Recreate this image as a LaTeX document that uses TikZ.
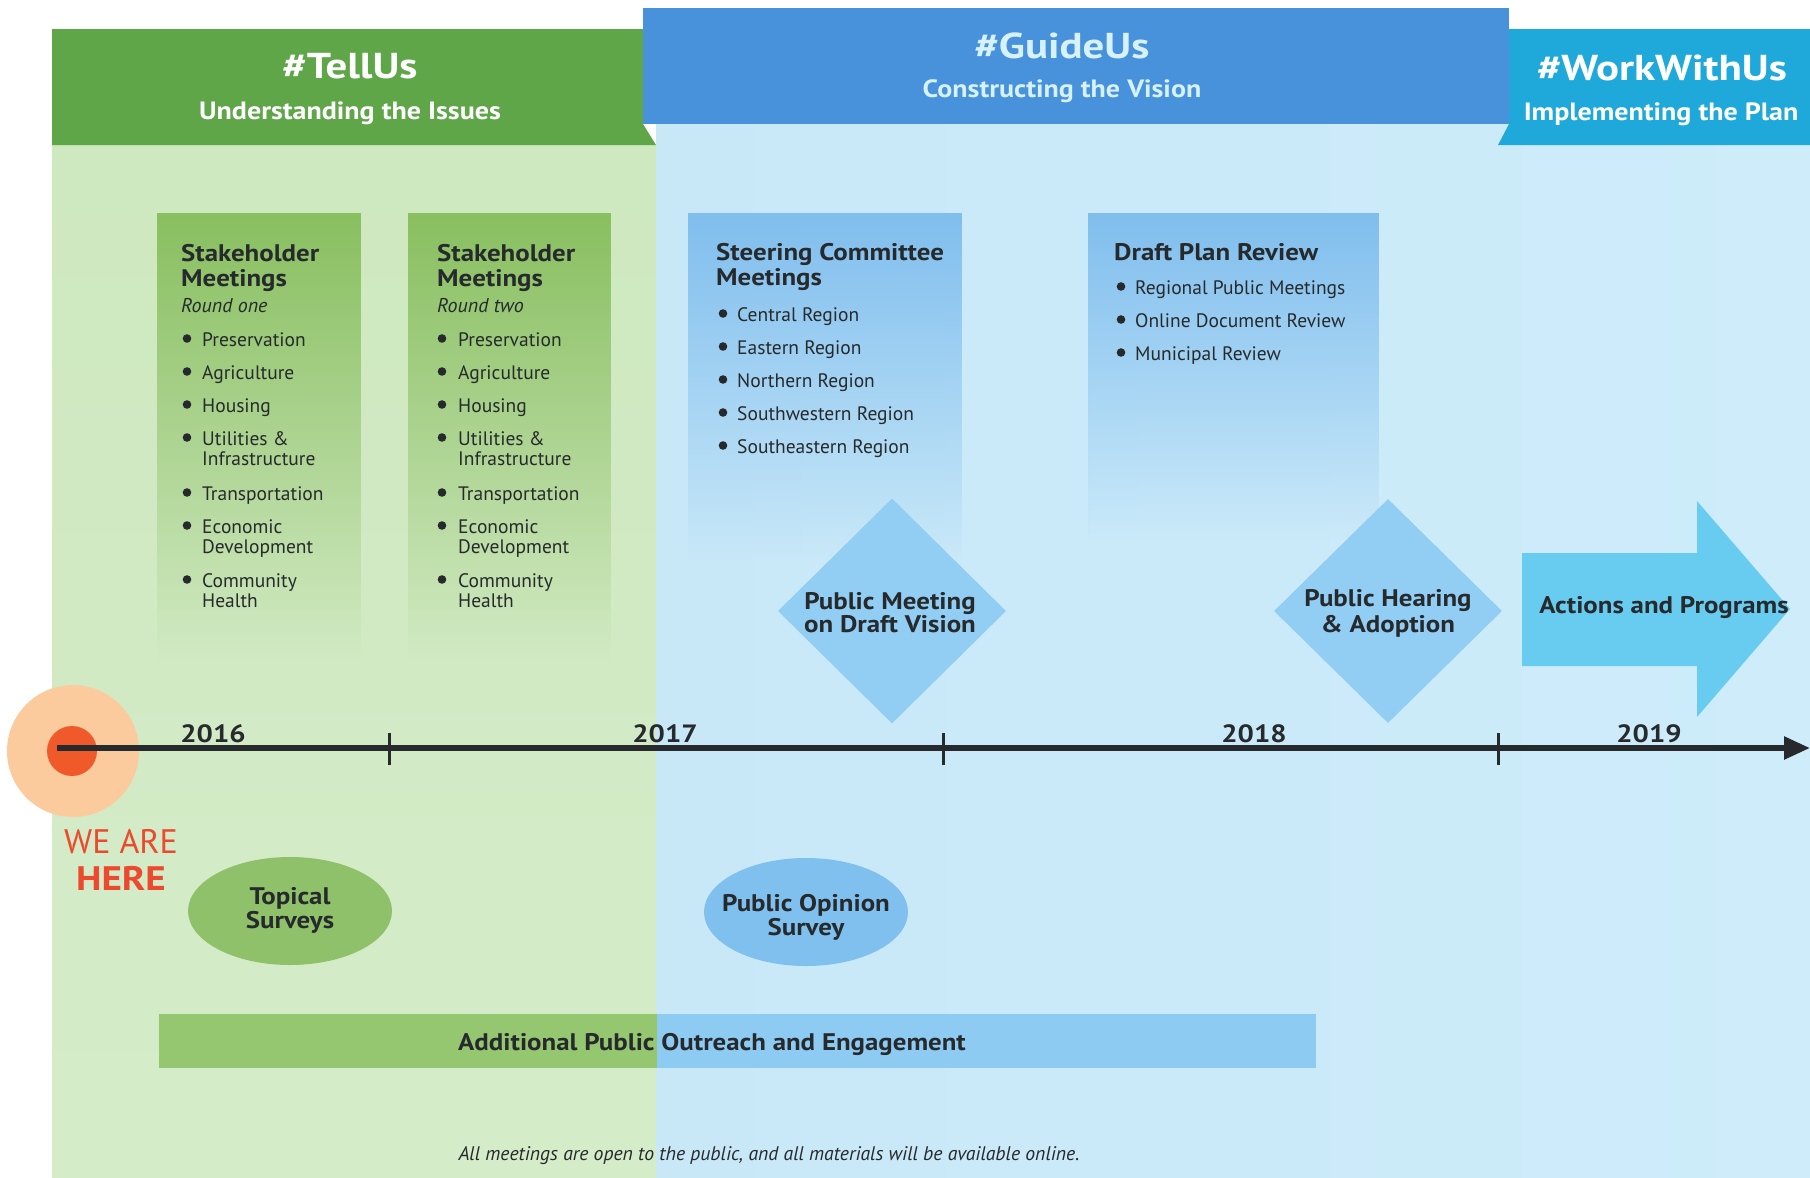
\documentclass[tikz,border=0pt]{standalone}
\usepackage{fontspec}
\setmainfont{PT Sans}
\newfontfamily\bfw[FakeStretch=1.12]{PT Sans}
\newfontfamily\bfh[FakeStretch=1.19]{PT Sans}
\newfontfamily\bfy[FakeStretch=1.15]{PT Sans}
\usetikzlibrary{arrows.meta,shapes.geometric,fadings}
\tikzfading[name=fadedown, top color=transparent!0, middle color=transparent!20, bottom color=transparent!100]
\definecolor{bggreen}{HTML}{D5ECC9}
\definecolor{bggreenT}{HTML}{CEE8BF}
\definecolor{bgblue}{HTML}{C8E8F8}
\definecolor{bgblueR}{HTML}{CEECFA}
\definecolor{hdrgreen}{HTML}{5FA648}
\definecolor{hdrblue}{HTML}{4792DB}
\definecolor{hdrteal}{HTML}{1EA9DA}
\definecolor{boxgreen}{HTML}{89BF60}
\definecolor{boxblue}{HTML}{80BEEE}
\definecolor{diamc}{HTML}{92CDF3}
\definecolor{arrowc}{HTML}{68CBF0}
\definecolor{ellgreen}{HTML}{8FC16A}
\definecolor{ellblue}{HTML}{80C0EF}
\definecolor{bargreen}{HTML}{95C670}
\definecolor{barblue}{HTML}{8ECBF3}
\definecolor{hotred}{HTML}{F05A2A}
\definecolor{glowc}{HTML}{FBCB9E}
\definecolor{redtxt}{HTML}{EC4A2E}
\definecolor{txt}{HTML}{262A2C}
\definecolor{paleblue}{HTML}{D6F1FF}
\newcommand{\bitem}[5]{\fill[txt] (#2,#4-7.5) circle (4.3);
  \node[item] (#1) at (#3,#4) {#5};}
\newcommand{\citem}[4]{\node[item] (#1) at (#2,#3) {#4};}
\begin{document}
\begin{tikzpicture}[x=1pt,y=-1pt,
  title/.style={font=\bfw\fontsize{24}{26}\selectfont\bfseries, text=txt, anchor=base west, inner sep=0pt},
  sub/.style={font=\fontsize{20}{21}\selectfont\itshape, text=txt, anchor=base west, inner sep=0pt},
  item/.style={font=\fontsize{19.5}{21}\selectfont, text=txt, anchor=base west, inner sep=0pt},
  lab/.style={font=\bfw\fontsize{24}{26}\selectfont\bfseries, text=txt, anchor=base, inner sep=0pt},
  year/.style={font=\bfy\fontsize{25}{27}\selectfont\bfseries, text=txt, anchor=base, inner sep=0pt},
  hbig/.style={font=\bfh\fontsize{36}{40}\selectfont\bfseries, anchor=base, inner sep=0pt},
  hsmall/.style={font=\bfw\fontsize{25}{28}\selectfont\bfseries, anchor=base, inner sep=0pt},
  tick/.style={line width=3pt, draw=txt},
]
\useasboundingbox (0,0) rectangle (1810,1178);
\fill[white] (0,0) rectangle (1810,1178);
% body regions
\shade[top color=bggreenT, bottom color=bggreen] (52,145) rectangle (657,1178);
\shade[left color=bgblue, right color=bgblueR] (656,124) rectangle (1810,1178);
% headers
\fill[hdrgreen] (52,29) -- (643,29) -- (643,124) -- (656,145) -- (52,145) -- cycle;
\fill[hdrblue] (643,8) rectangle (1509,124);
\fill[hdrteal] (1509,29) -- (1810,29) -- (1810,145) -- (1498,145) -- (1509,124) -- cycle;
\node[hbig, text=white] (tellus) at (350,78) {\#TellUs};
\node[hsmall, text=white] (tellsub) at (350,119) {Understanding the Issues};
\node[hbig, text=paleblue] (guideus) at (1062,58) {\#GuideUs};
\node[hsmall, text=paleblue] (guidesub) at (1062,97) {Constructing the Vision};
\node[hbig, text=white] (workus) at (1662,80) {\#WorkWithUs};
\node[hsmall, text=white] (worksub) at (1661,120) {Implementing the Plan};
% boxes
\fill[boxgreen, path fading=fadedown] (157,213) rectangle (361,660);
\fill[boxgreen, path fading=fadedown] (408,213) rectangle (611,660);
\fill[boxblue, path fading=fadedown] (688,213) rectangle (962,560);
\fill[boxblue, path fading=fadedown] (1088,213) rectangle (1379,540);
% box 1
\node[title] (s1a) at (181,261) {Stakeholder};
\node[title] (s1b) at (181,286) {Meetings};
\node[sub] (s1c) at (181,312) {Round one};
\bitem{s1i1}{187}{202}{346}{Preservation}
\bitem{s1i2}{187}{202}{379}{Agriculture}
\bitem{s1i3}{187}{202}{412}{Housing}
\bitem{s1i4}{187}{202}{445}{Utilities \&}
\citem{s1i4b}{202}{465}{Infrastructure}
\bitem{s1i5}{187}{202}{500}{Transportation}
\bitem{s1i6}{187}{202}{533}{Economic}
\citem{s1i6b}{202}{553}{Development}
\bitem{s1i7}{187}{202}{587}{Community}
\citem{s1i7b}{202}{607}{Health}
% box 2
\node[title] (s2a) at (437,261) {Stakeholder};
\node[title] (s2b) at (437,286) {Meetings};
\node[sub] (s2c) at (437,312) {Round two};
\bitem{s2i1}{442}{458}{346}{Preservation}
\bitem{s2i2}{442}{458}{379}{Agriculture}
\bitem{s2i3}{442}{458}{412}{Housing}
\bitem{s2i4}{442}{458}{445}{Utilities \&}
\citem{s2i4b}{458}{465}{Infrastructure}
\bitem{s2i5}{442}{458}{500}{Transportation}
\bitem{s2i6}{442}{458}{533}{Economic}
\citem{s2i6b}{458}{553}{Development}
\bitem{s2i7}{442}{458}{587}{Community}
\citem{s2i7b}{458}{607}{Health}
% steering
\node[title] (sca) at (716,260) {Steering Committee};
\node[title] (scb) at (716,285) {Meetings};
\bitem{sc1}{723}{737}{321}{Central Region}
\bitem{sc2}{723}{737}{354}{Eastern Region}
\bitem{sc3}{723}{737}{387}{Northern Region}
\bitem{sc4}{723}{737}{420}{Southwestern Region}
\bitem{sc5}{723}{737}{453}{Southeastern Region}
% draft plan
\node[title] (dpa) at (1114,260) {Draft Plan Review};
\bitem{dp1}{1121}{1135}{294}{Regional Public Meetings}
\bitem{dp2}{1121}{1135}{327}{Online Document Review}
\bitem{dp3}{1121}{1135}{360}{Municipal Review}
% diamonds and arrow
\node[diamond, fill=diamc, minimum width=228pt, minimum height=225pt, inner sep=0pt] (d1) at (892,611) {};
\node[lab] (d1a) at (890,609) {Public Meeting};
\node[lab] (d1b) at (890,632) {on Draft Vision};
\node[diamond, fill=diamc, minimum width=228pt, minimum height=224pt, inner sep=0pt] (d2) at (1388,611) {};
\node[lab] (d2a) at (1388,606) {Public Hearing};
\node[lab] (d2b) at (1388,632) {\& Adoption};
\fill[arrowc] (1522,553) -- (1697,553) -- (1697,501) -- (1790,609) -- (1697,717) -- (1697,666) -- (1522,666) -- cycle;
\node[lab] (act) at (1664,613) {Actions and Programs};
% timeline
\node[circle, fill=glowc, minimum size=132pt, inner sep=0pt] (glow) at (73,751) {};
\node[circle, fill=hotred, minimum size=50pt, inner sep=0pt] (here) at (72,751) {};
\coordinate (tlstart) at (57,748);
\coordinate (tlend) at (1810,748);
\draw[line width=5.5pt, draw=txt, -{Triangle[length=26pt,width=22pt]}] (tlstart) -- (tlend);
\foreach \tx [count=\k] in {389,943,1498}{
  \coordinate (t\k a) at (\tx,733);
  \coordinate (t\k b) at (\tx,765);
  \draw[tick] (t\k a) -- (t\k b);
}
\node[year] (y16) at (213,742) {2016};
\node[year] (y17) at (665,742) {2017};
\node[year] (y18) at (1254,742) {2018};
\node[year] (y19) at (1649,742) {2019};
\node[font=\fontsize{34}{36}\selectfont, text=redtxt, anchor=base, inner sep=0pt] (weare) at (121,853) {WE ARE};
\node[font=\bfy\fontsize{34}{36}\selectfont\bfseries, text=redtxt, anchor=base, inner sep=0pt] (herelbl) at (121,890) {HERE};
% ellipses
\node[ellipse, fill=ellgreen, minimum width=204pt, minimum height=108pt, inner sep=0pt] (e1) at (290,911) {};
\node[lab] (e1a) at (290,904) {Topical};
\node[lab] (e1b) at (290,928) {Surveys};
\node[ellipse, fill=ellblue, minimum width=204pt, minimum height=108pt, inner sep=0pt] (e2) at (806,912) {};
\node[lab] (e2a) at (806,911) {Public Opinion};
\node[lab] (e2b) at (806,935) {Survey};
% outreach bar
\fill[bargreen] (159,1014) rectangle (657,1068);
\fill[barblue] (657,1014) rectangle (1316,1068);
\node[lab] (bar) at (712,1050) {Additional Public Outreach and Engagement};
\node[font=\fontsize{19.7}{21}\selectfont\itshape, text=txt, anchor=base, inner sep=0pt] (foot) at (769,1160) {All meetings are open to the public, and all materials will be available online.};
\end{tikzpicture}
\end{document}
